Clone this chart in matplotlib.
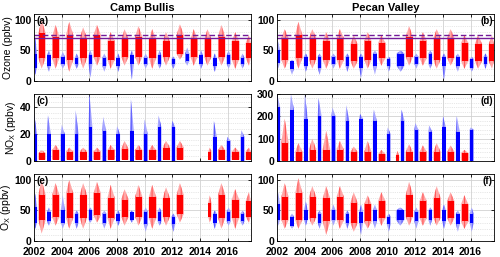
import numpy as np
import matplotlib
matplotlib.use("Agg")
import matplotlib.pyplot as plt

nan = np.nan

# season years (winter block is centred on Jan 1 of the year, summer block Apr-Nov)
win_years = list(range(2002, 2018))
sum_years = list(range(2002, 2018))

# ---- (a) Camp Bullis ozone
a_win_lo = [10, 15, 20, 20, 5, 15, 15, 2, 20, 20, 20, 25, 20, 15, 20, 20]
a_win_clo = [22, 25, 27, 27, 28, 25, 25, 27, 28, 28, 27, 32, 28, 25, 28, 28]
a_win_chi = [45, 42, 40, 38, 42, 38, 38, 42, 38, 42, 36, 45, 42, 38, 42, 38]
a_win_hi = [72, 50, 48, 45, 50, 45, 45, 50, 45, 50, 40, 55, 50, 45, 50, 45]
a_sum_lo = [20, 20, 15, 20, 25, 20, 25, 25, 20, 25, 35, 25, 25, 25, 20, 25]
a_sum_clo = [38, 38, 35, 38, 40, 35, 40, 40, 38, 40, 45, 40, 40, 40, 35, 38]
a_sum_chi = [78, 72, 75, 70, 75, 65, 68, 72, 68, 65, 75, 68, 68, 72, 65, 62]
a_sum_hi = [100, 92, 97, 88, 92, 80, 85, 90, 85, 80, 93, 85, 85, 92, 80, 75]

# ---- (b) Pecan Valley ozone
b_win_lo = [20, 10, 15, 10, 20, 15, 5, 10, 15, 15, 20, 20, 2, 15, 15, 20]
b_win_clo = [30, 20, 25, 22, 28, 25, 22, 25, 25, 25, 28, 28, 25, 25, 22, 28]
b_win_chi = [50, 32, 40, 40, 40, 40, 40, 45, 36, 45, 40, 45, 40, 40, 36, 40]
b_win_hi = [65, 35, 45, 45, 45, 45, 45, 50, 40, 50, 45, 50, 45, 45, 40, 45]
b_sum_lo = [20, 20, 20, 20, 20, 20, 20, 25, nan, 25, 25, 20, 25, 20, 20, 20]
b_sum_clo = [35, 38, 35, 35, 35, 33, 35, 38, nan, 40, 38, 35, 38, 33, 33, 33]
b_sum_chi = [70, 75, 70, 65, 70, 60, 65, 62, nan, 72, 65, 70, 70, 62, 60, 60]
b_sum_hi = [85, 97, 85, 80, 85, 75, 80, 75, nan, 90, 80, 85, 85, 75, 75, 75]

# ---- (c) Camp Bullis NOx
c_win_lo = [0] * 16
c_win_chi = [20, 20, 20, 20, 25, 22, 20, 22, 20, 25, 25, nan, nan, 18, 15, 18]
c_win_hi = [35, 34, 27, 38, 50, 33, 26, 46, 31, 34, 30, nan, nan, 30, 18, 23]
c_sum_lo = [1] * 16
c_sum_chi = [6, 8, 7, 7, 7, 8, 9, 8, 8, 10, 10, nan, 7, 8, 7, 7]
c_sum_hi = [8, 12, 10, 10, 10, 12, 15, 12, 12, 15, 15, nan, 10, 12, 10, 10]

# ---- (d) Pecan Valley NOx
d_win_lo = [0] * 16
d_win_chi = [240, 230, 190, 200, 200, 180, 190, 180, 120, 180, 140, 130, 150, 130, 140, nan]
d_win_hi = [300, 300, 300, 280, 240, 250, 210, 230, 150, 230, 170, 160, 200, 200, 150, nan]
d_sum_lo = [2] * 16
d_sum_chi = [80, 40, 50, 50, 50, 40, 40, 30, 25, 40, 40, 40, 40, 35, nan, nan]
d_sum_hi = [190, 80, 100, 135, 90, 65, 90, 50, 45, 75, 70, 80, 70, 50, nan, nan]

# ---- (e) Camp Bullis Ox
e_win_lo = [20, 25, 20, 20, 30, 20, 25, 30, 15, 25, 15, nan, nan, 20, 25, 25]
e_win_clo = [30, 32, 30, 30, 35, 30, 32, 35, 28, 32, 28, nan, nan, 30, 32, 32]
e_win_chi = [55, 48, 50, 45, 50, 45, 45, 47, 48, 48, 40, nan, nan, 45, 48, 45]
e_win_hi = [78, 55, 75, 50, 55, 50, 50, 50, 55, 55, 45, nan, nan, 50, 55, 50]
e_sum_lo = [12, 25, 20, 20, 30, 20, 25, 25, 20, 25, 30, nan, 30, 20, 20, 30]
e_sum_clo = [35, 40, 38, 38, 42, 38, 40, 40, 38, 40, 45, nan, 40, 38, 38, 40]
e_sum_chi = [75, 75, 78, 75, 78, 70, 68, 72, 72, 70, 75, nan, 62, 75, 68, 65]
e_sum_hi = [100, 95, 100, 95, 97, 92, 85, 92, 92, 88, 95, nan, 75, 95, 85, 80]

# ---- (f) Pecan Valley Ox
f_win_lo = [25, 20, 25, 20, 25, 20, 10, 20, 15, 25, 20, 25, 20, 15, 15, nan]
f_win_clo = [35, 25, 35, 30, 35, 30, 30, 32, 28, 35, 32, 35, 32, 28, 30, nan]
f_win_chi = [60, 40, 50, 45, 50, 45, 48, 50, 40, 50, 48, 50, 50, 45, 45, nan]
f_win_hi = [80, 45, 65, 50, 60, 50, 60, 60, 45, 55, 55, 55, 60, 50, 55, nan]
f_sum_lo = [20, 20, 25, 10, 20, 15, 20, 25, nan, 25, 25, 25, 25, 20, nan, nan]
f_sum_clo = [35, 35, 38, 32, 35, 30, 32, 38, nan, 40, 38, 38, 38, 32, nan, nan]
f_sum_chi = [72, 78, 72, 70, 72, 62, 60, 65, nan, 75, 65, 70, 65, 60, nan, nan]
f_sum_hi = [95, 103, 90, 90, 90, 80, 75, 80, nan, 97, 80, 90, 80, 75, nan, nan]

# partial seasons (start of record after gap)
sum_start_override = {"c": {2014: 2014.6}, "e": {2014: 2014.6}, "d": {2010: 2010.6}}
win_start_override = {"b": {2011: 2010.65}, "f": {2011: 2010.6}}

XMIN, XMAX = 2002.0, 2017.7
RED, PINK, PALEPINK = (1.0, 0.0, 0.0), (1.0, 0.35, 0.35), (1.0, 0.65, 0.65)
BLUE, LBLUE, PALEBLUE = (0.0, 0.0, 1.0), (0.35, 0.35, 1.0), (0.65, 0.65, 1.0)
PURPLE = (0.45, 0.1, 0.6)
plt.rcParams["hatch.linewidth"] = 0.8


# each season drawn as a spike: pale streaky envelope peaks inside the season,
# darker core band over most of it
def draw_blocks(ax, years, lo, clo, chi, hi, t0, t1, peak, dark, light, pale, overrides):
    for k, y in enumerate(years):
        if np.isnan(hi[k]):
            continue
        s = overrides.get(y, y + t0)
        e = y + t1
        m = s + peak * (e - s)
        xs = np.clip([s, m, e], XMIN, XMAX)
        ax.fill_between(xs, [clo[k], lo[k], clo[k]], [chi[k], hi[k], chi[k]],
                        facecolor=pale, edgecolor=light, hatch="||||", lw=0)
        xc = np.clip([s + 0.08 * (e - s), e - 0.08 * (e - s)], XMIN, XMAX)
        ax.fill_between(xc, [clo[k]] * 2, [chi[k]] * 2, facecolor=dark, lw=0)


def panel(ax, key, win, summ, ylim, yticks, label, right):
    wpeak = 0.25 if key in "cd" else 0.5
    draw_blocks(ax, win_years, *win, -0.06, 0.23, wpeak, BLUE, LBLUE, PALEBLUE,
                win_start_override.get(key, {}))
    draw_blocks(ax, sum_years, *summ, 0.31, 0.85, 0.45, RED, PINK, PALEPINK,
                sum_start_override.get(key, {}))
    ax.set_xlim(XMIN, XMAX)
    ax.set_ylim(*ylim)
    ax.set_yticks(yticks)
    ax.set_xticks(range(2002, 2018, 2))
    ax.set_yticks(np.arange(ylim[0], ylim[1] + 0.1, yticks[1] / 5 if key in "cd" else 10), minor=True)
    ax.grid(True, which="major", color="0.82", lw=0.6)
    ax.grid(True, which="minor", axis="y", color="0.82", lw=0.5, ls=":")
    ax.set_axisbelow(True)
    ax.tick_params(direction="in", length=2, width=0.6, labelsize=7.5, pad=2,
                   top=True, right=True)
    ax.tick_params(axis="x", pad=4.5)
    ax.tick_params(which="minor", length=0)
    for lab in ax.get_xticklabels() + ax.get_yticklabels():
        lab.set_fontweight("bold")
    for sp in ax.spines.values():
        sp.set_linewidth(0.6)
    if right:
        ax.text(0.995, 0.97, label, transform=ax.transAxes, ha="right", va="top",
                fontsize=7, fontweight="bold")
    else:
        ax.text(0.01, 0.97, label, transform=ax.transAxes, ha="left", va="top",
                fontsize=7, fontweight="bold")


plt.rcParams["font.family"] = ["Liberation Sans", "DejaVu Sans"]
fig = plt.figure(figsize=(5.0, 2.57), dpi=100)
lefts = [0.068, 0.554]
width = 0.434
bottoms = [0.685, 0.3735, 0.0623]
height = 0.261

axes = {}
keys = [["a", "b"], ["c", "d"], ["e", "f"]]
for r in range(3):
    for c in range(2):
        axes[keys[r][c]] = fig.add_axes([lefts[c], bottoms[r], width, height])

panel(axes["a"], "a", (a_win_lo, a_win_clo, a_win_chi, a_win_hi),
      (a_sum_lo, a_sum_clo, a_sum_chi, a_sum_hi), (0, 110), [0, 50, 100], "(a)", False)
panel(axes["b"], "b", (b_win_lo, b_win_clo, b_win_chi, b_win_hi),
      (b_sum_lo, b_sum_clo, b_sum_chi, b_sum_hi), (0, 110), [0, 50, 100], "(b)", True)
panel(axes["c"], "c", (c_win_lo, c_win_lo, c_win_chi, c_win_hi),
      (c_sum_lo, c_sum_lo, c_sum_chi, c_sum_hi), (0, 50), [0, 20, 40], "(c)", False)
panel(axes["d"], "d", (d_win_lo, d_win_lo, d_win_chi, d_win_hi),
      (d_sum_lo, d_sum_lo, d_sum_chi, d_sum_hi), (0, 300), [0, 100, 200, 300], "(d)", True)
panel(axes["e"], "e", (e_win_lo, e_win_clo, e_win_chi, e_win_hi),
      (e_sum_lo, e_sum_clo, e_sum_chi, e_sum_hi), (0, 110), [0, 50, 100], "(e)", False)
panel(axes["f"], "f", (f_win_lo, f_win_clo, f_win_chi, f_win_hi),
      (f_sum_lo, f_sum_clo, f_sum_chi, f_sum_hi), (0, 110), [0, 50, 100], "(f)", True)

# ozone standards
for k in ["a", "b"]:
    axes[k].axhline(75, color=PURPLE, lw=1.0, ls=(0, (4, 2)))
    axes[k].axhline(70, color=PURPLE, lw=1.0)

for k in ["a", "b", "c", "d"]:
    axes[k].set_xticklabels([])

axes["a"].set_title("Camp Bullis", fontsize=8, fontweight="bold", pad=2)
axes["b"].set_title("Pecan Valley", fontsize=8, fontweight="bold", pad=2)
axes["a"].set_ylabel("Ozone (ppbv)", fontsize=7.5, labelpad=1)
axes["c"].set_ylabel("NO$_\\mathregular{X}$ (ppbv)", fontsize=7.5, labelpad=1)
axes["e"].set_ylabel("O$_\\mathregular{X}$ (ppbv)", fontsize=7.5, labelpad=1)

fig.savefig("out.png", dpi=100)
